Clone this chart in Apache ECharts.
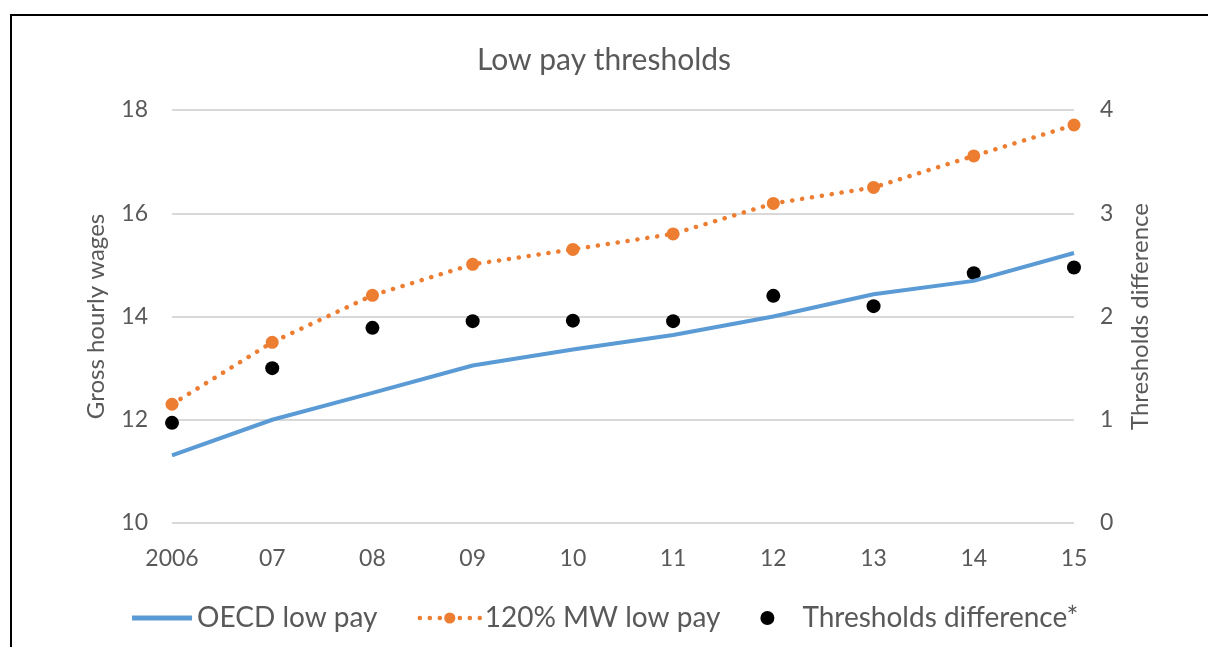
<!DOCTYPE html>
<html>
<head>
<meta charset="utf-8">
<title>Low pay thresholds</title>
<script src="https://cdn.jsdelivr.net/npm/echarts@6/dist/echarts.min.js"></script>
<style>
  html, body { margin: 0; padding: 0; background: #fff; }
  #chart { width: 1208px; height: 647px; }
  .frame {
    position: absolute; left: 10px; top: 14px; right: 0; bottom: 0;
    border-left: 2px solid #000; border-top: 2px solid #000;
    pointer-events: none;
  }
</style>
</head>
<body>
<div id="chart"></div>
<div class="frame"></div>
<script>
const years = ['2006', '07', '08', '09', '10', '11', '12', '13', '14', '15']
const oecdLowPay = [11.31, 12.0, 12.52, 13.05, 13.36, 13.64, 14.0, 14.43, 14.69, 15.23]
const mwLowPay = [12.3, 13.5, 14.41, 15.01, 15.3, 15.6, 16.19, 16.5, 17.11, 17.71]
const thresholdsDiff = [0.97, 1.5, 1.89, 1.955, 1.96, 1.955, 2.2, 2.1, 2.42, 2.475]

const font = 'Lato'
const grey = '#595959'
const dotted = [0.1, 9.9]

const chart = echarts.init(document.getElementById('chart'))
chart.setOption({
  animation: false,
  textStyle: { fontFamily: font },
  title: {
    text: 'Low pay thresholds',
    left: 'center',
    top: 40,
    textStyle: { fontFamily: font, fontSize: 30, fontWeight: 'normal', color: grey }
  },
  legend: {
    left: 'center',
    top: 599,
    itemWidth: 60,
    itemHeight: 14,
    itemGap: 40,
    textStyle: { fontFamily: font, fontSize: 28, color: grey },
    data: [
      { name: 'OECD low pay', itemStyle: { opacity: 0 }, lineStyle: { width: 5 } },
      { name: '120% MW low pay', lineStyle: { width: 4.5, type: dotted, cap: 'round' } },
      { name: 'Thresholds difference*', icon: 'circle' }
    ]
  },
  grid: { left: 172, right: 134, top: 110, bottom: 124, containLabel: false },
  xAxis: {
    type: 'category',
    data: years,
    boundaryGap: false,
    axisLine: { show: false },
    axisTick: { show: false },
    axisLabel: { fontSize: 23, color: grey, margin: 24, fontFamily: font }
  },
  yAxis: [
    {
      type: 'value',
      min: 10, max: 18, interval: 2,
      name: 'Gross hourly wages',
      nameLocation: 'middle',
      nameRotate: 90,
      nameGap: 64,
      nameTextStyle: { fontSize: 24, color: grey, fontFamily: font },
      axisLabel: { fontSize: 23, color: grey, margin: 24, fontFamily: font },
      splitLine: { lineStyle: { color: '#d9d9d9', width: 2 } }
    },
    {
      type: 'value',
      min: 0, max: 4, interval: 1,
      name: 'Thresholds difference',
      nameLocation: 'middle',
      nameRotate: 90,
      nameGap: 54,
      nameTextStyle: { fontSize: 24, color: grey, fontFamily: font },
      axisLabel: { fontSize: 23, color: grey, margin: 26, fontFamily: font },
      splitLine: { show: false }
    }
  ],
  series: [
    {
      name: 'OECD low pay',
      type: 'line',
      data: oecdLowPay,
      symbol: 'none',
      lineStyle: { color: '#5B9BD5', width: 4 },
      itemStyle: { color: '#5B9BD5' }
    },
    {
      name: '120% MW low pay',
      type: 'line',
      data: mwLowPay,
      symbol: 'circle',
      symbolSize: 13,
      lineStyle: { color: '#ED7D31', width: 4.5, type: dotted, cap: 'round' },
      itemStyle: { color: '#ED7D31' }
    },
    {
      name: 'Thresholds difference*',
      type: 'scatter',
      yAxisIndex: 1,
      data: thresholdsDiff,
      symbol: 'circle',
      symbolSize: 14,
      itemStyle: { color: '#000', opacity: 1 }
    }
  ]
})
</script>
</body>
</html>
